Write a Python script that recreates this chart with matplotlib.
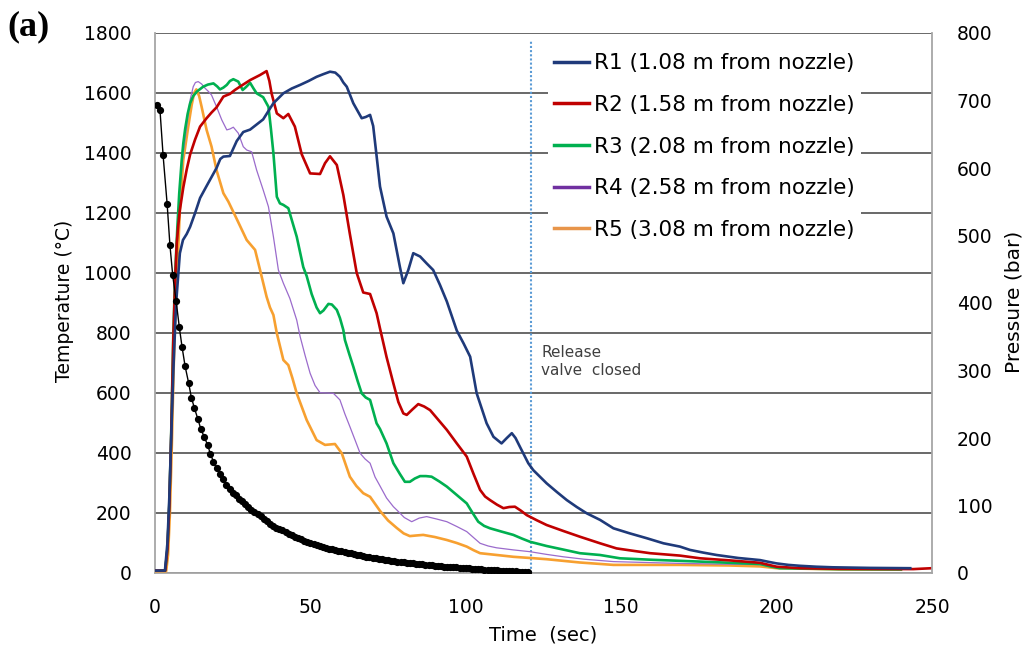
import matplotlib
matplotlib.use("Agg")
import matplotlib.pyplot as plt
from matplotlib.lines import Line2D

plt.rcParams["font.family"] = ["DejaVu Sans"]

# ---- data ----
r1_time = [0, 3.2, 4.0, 4.6, 5.2, 6.0, 6.8, 8.0, 9.0, 10.2, 11.3, 12.9, 14.5, 16.6, 18.2, 19.8,
           21.0, 22.0, 24.1, 25.2, 26.3, 28.4, 30.6, 32.7, 34.8, 36.5, 38.1, 41.3, 44.0, 46.7,
           49.4, 52.0, 54.2, 56.3, 58.0, 59.5, 60.6, 61.7, 63.8, 65.2, 66.5, 67.8, 69.2, 70.2,
           71.3, 72.4, 74.5, 76.7, 78.8, 79.9, 81.5, 83.1, 85.3, 87.4, 89.5, 91.7, 93.9, 97.1,
           99.3, 101.4, 103.5, 106.7, 108.9, 111.5, 113.2, 114.8, 116.0, 117.4, 120.1, 121.7,
           126.0, 129.3, 132.5, 135.7, 138.9, 143.2, 147.5, 152.8, 158.2, 163.6, 168.9, 172.1,
           176.4, 180.7, 187.7, 194.7, 197.5, 200.0, 203.8, 207.5, 212.7, 218.0, 230.0, 243.0]
r1_temp = [8, 8, 100, 250, 450, 700, 900, 1066, 1110, 1130, 1154, 1200, 1250, 1290, 1320, 1350,
           1380, 1388, 1390, 1415, 1440, 1470, 1478, 1495, 1512, 1540, 1566, 1599, 1615, 1627,
           1640, 1654, 1663, 1671, 1668, 1654, 1635, 1621, 1566, 1540, 1516, 1520, 1527, 1490,
           1390, 1288, 1188, 1132, 1020, 966, 1010, 1066, 1055, 1032, 1010, 960, 905, 808,
           765, 721, 599, 499, 454, 432, 450, 466, 450, 421, 366, 343,
           299, 270, 243, 220, 199, 177, 149, 132, 116, 99, 88, 77,
           68, 60, 50, 43, 37, 32, 27, 24, 21, 19, 17, 16]

r2_time = [0, 3.3, 4.0, 4.6, 5.2, 5.9, 6.5, 7.0, 7.5, 8.0, 9.1, 10.2, 11.3, 12.9, 14.5, 16.6,
           18.2, 19.8, 22.0, 24.1, 25.7, 27.3, 30.6, 33.8, 35.9, 36.8, 37.5, 39.2, 41.3, 42.9,
           45.0, 47.2, 49.9, 53.1, 54.7, 56.3, 58.5, 60.6, 62.7, 64.9, 67.0, 69.2, 71.3, 72.4,
           74.5, 76.7, 78.3, 79.9, 81.0, 82.8, 84.7, 86.6, 88.5, 91.2, 93.9, 97.1, 100.3, 102.5,
           104.6, 106.2, 107.8, 110.0, 112.1, 114.0, 115.8, 117.7, 119.6, 122.8, 126.0, 131.4,
           136.7, 143.2, 148.5, 153.8, 159.3, 168.9, 175.4, 185.0, 194.7, 197.5, 200.0, 207.5,
           220.0, 244.0, 250.0]
r2_temp = [8, 8, 80, 220, 450, 780, 980, 1100, 1160, 1210, 1285, 1345, 1395, 1445, 1488, 1516,
           1535, 1552, 1588, 1597, 1610, 1621, 1643, 1660, 1673, 1640, 1599, 1532, 1516, 1530,
           1488, 1396, 1332, 1330, 1366, 1389, 1360, 1260, 1130, 1000, 935, 930, 866, 815,
           720, 632, 570, 532, 527, 545, 563, 555, 543, 510, 477, 432, 388, 330,
           277, 255, 243, 228, 216, 220, 221, 208, 193, 176, 160, 140,
           121, 99, 82, 74, 66, 58, 49, 42, 34, 27, 21, 16,
           14, 13, 16]

r3_time = [0, 3.3, 4.0, 4.6, 5.2, 5.9, 6.5, 7.2, 7.8, 8.6, 9.1, 9.7, 10.5, 11.3, 12.3, 13.5,
           15.5, 17.0, 18.8, 20.0, 20.9, 22.0, 23.1, 24.1, 25.2, 26.8, 28.2, 29.3, 30.6, 31.7,
           32.7, 34.8, 36.5, 37.3, 38.1, 39.2, 40.2, 41.3, 42.9, 44.2, 45.6, 47.7, 48.8, 50.4,
           52.0, 53.1, 54.2, 55.8, 56.9, 58.5, 59.5, 60.6, 61.1, 62.5, 63.8, 65.2, 66.5, 67.8,
           69.2, 70.2, 71.3, 72.4, 74.5, 76.7, 78.8, 80.4, 82.0, 83.6, 85.3, 87.2, 89.0, 91.5,
           93.9, 97.1, 100.3, 102.2, 104.0, 105.9, 107.8, 111.5, 115.3, 118.0, 120.7, 126.0,
           131.4, 136.7, 143.2, 149.6, 160.0, 175.4, 185.0, 194.7, 198.0, 201.0, 220.0, 240.0]
r3_temp = [8, 8, 80, 230, 460, 800, 1000, 1154, 1266, 1377, 1432, 1480, 1530, 1566, 1590, 1605,
           1621, 1628, 1632, 1622, 1612, 1618, 1627, 1640, 1646, 1638, 1610, 1620, 1634, 1615,
           1599, 1586, 1554, 1480, 1399, 1254, 1232, 1227, 1216, 1170, 1121, 1020, 990, 930,
           885, 866, 875, 897, 895, 877, 850, 810, 777, 730, 688, 640, 599, 585,
           577, 540, 499, 480, 432, 366, 330, 304, 304, 315, 323, 323, 321, 305,
           288, 260, 232, 200, 171, 157, 149, 138, 127, 115, 104, 90,
           78, 66, 60, 49, 44, 38, 34, 30, 22, 16, 13, 12]

r4_time = [0, 3.4, 4.0, 4.6, 5.2, 5.9, 6.5, 7.2, 8.0, 9.1, 10.2, 11.3, 12.3, 13.0, 13.9, 15.0,
           16.1, 17.2, 18.2, 19.8, 21.5, 23.1, 24.1, 25.2, 26.8, 28.4, 29.5, 31.1, 32.7, 34.8,
           36.5, 38.1, 39.7, 41.3, 43.4, 45.6, 46.7, 48.3, 49.9, 51.5, 53.1, 55.3, 57.4, 59.5,
           61.1, 62.7, 64.3, 66.0, 67.6, 69.2, 70.8, 72.4, 74.5, 76.7, 77.8, 80.2, 82.6, 85.0,
           87.4, 90.6, 93.9, 97.1, 100.3, 102.5, 104.6, 107.2, 109.9, 115.3, 120.7, 126.0,
           131.4, 138.0, 147.5, 158.0, 168.9, 180.0, 194.7, 198.0, 200.0, 220.0, 240.0]
r4_temp = [8, 8, 70, 210, 440, 780, 990, 1150, 1280, 1400, 1488, 1577, 1621, 1635, 1638, 1630,
           1616, 1605, 1593, 1554, 1510, 1477, 1480, 1486, 1466, 1421, 1410, 1404, 1343, 1277,
           1221, 1121, 1010, 966, 915, 843, 788, 725, 666, 625, 601, 600, 599, 577,
           530, 488, 445, 399, 380, 366, 320, 290, 250, 221, 210, 185, 171, 183,
           188, 180, 171, 155, 138, 118, 99, 90, 84, 77, 71, 62,
           54, 46, 38, 35, 32, 30, 28, 21, 17, 13, 12]

r5_time = [0, 3.6, 4.2, 4.8, 5.4, 6.0, 6.6, 7.5, 8.0, 9.1, 10.7, 11.8, 12.6, 13.3, 14.2, 15.0,
           16.6, 18.2, 19.8, 22.0, 23.6, 26.3, 29.5, 32.2, 33.8, 35.9, 37.0, 38.1, 39.2, 41.3,
           42.9, 44.2, 45.6, 48.8, 52.0, 54.7, 57.9, 60.1, 61.4, 62.7, 64.8, 67.0, 69.2, 72.4,
           75.0, 77.8, 80.0, 82.0, 84.0, 86.3, 90.0, 93.9, 97.1, 100.3, 102.5, 104.6, 110.0,
           115.3, 120.7, 126.0, 136.7, 147.5, 168.9, 185.0, 194.7, 200.0, 220.0, 240.0]
r5_temp = [6, 6, 60, 200, 420, 680, 900, 1088, 1210, 1377, 1488, 1560, 1600, 1612, 1590, 1554,
           1477, 1421, 1343, 1266, 1238, 1180, 1110, 1077, 1010, 921, 885, 860, 799, 710,
           693, 650, 599, 510, 443, 427, 430, 399, 360, 321, 290, 266, 254, 207,
           175, 150, 132, 123, 125, 127, 120, 110, 100, 88, 76, 66, 60,
           54, 50, 46, 35, 27, 27, 25, 22, 16, 12, 11]

# pressure logged about once a second until the valve closed
pressure_time = [0.5, 1.6, 2.6, 3.9, 4.8, 5.7, 6.8, 7.8, 8.7, 9.7, 10.8, 11.7, 12.7, 13.8, 14.7,
                 15.8, 16.9, 17.8, 18.8, 19.8,
                 21, 22, 23, 24, 25, 26, 27, 28, 29, 30, 31, 32, 33, 34, 35, 36, 37, 38, 39, 40,
                 41, 42, 43, 44, 45, 46, 47, 48, 49, 50, 51, 52, 53, 54, 55, 56, 57, 58, 59, 60,
                 61, 62, 63, 64, 65, 66, 67, 68, 69, 70, 71, 72, 73, 74, 75, 76, 77, 78, 79, 80,
                 81, 82, 83, 84, 85, 86, 87, 88, 89, 90, 91, 92, 93, 94, 95, 96, 97, 98, 99, 100,
                 101, 102, 103, 104, 105, 106, 107, 108, 109, 110, 111, 112, 113, 114, 115, 116,
                 117, 118, 119, 120]
pressure_bar = [693, 686, 619, 547, 486, 441, 403, 365, 335, 306, 282, 260, 244, 228, 214,
                202, 190, 177, 165, 155,
                147, 139, 131, 124, 119, 115, 110, 106, 102, 98, 94, 91, 87, 84, 80, 77, 73, 70,
                67, 65, 63, 61, 58, 56, 54, 52, 50, 48, 46, 45, 43, 42, 40, 39, 37, 36, 35, 34,
                33, 32, 31, 30, 29, 28, 27, 26, 25, 24, 23, 22, 21.5, 21, 20.5, 20, 19, 18, 17.5,
                17, 16.5, 16, 15.5, 15, 14.5, 14, 13.5, 13, 12.5, 12, 11.5, 11, 10.5, 10, 9.5, 9,
                8.7, 8.5, 8.2, 8, 7.5, 7, 6.7, 6.5, 6.2, 6, 5.5, 5, 4.7, 4.5, 4.2, 4, 3.7, 3.5,
                3.2, 3, 2.7, 2.5, 2.2, 2, 1.7, 1.5]

labels = ["R1 (1.08 m from nozzle)", "R2 (1.58 m from nozzle)", "R3 (2.08 m from nozzle)",
          "R4 (2.58 m from nozzle)", "R5 (3.08 m from nozzle)"]
valve_closed_time = 121

# ---- figure ----
W, H = 1026, 653
fig = plt.figure(figsize=(W / 100, H / 100), dpi=100)
ax = fig.add_axes([155 / W, (H - 573) / H, 777 / W, 540 / H])
ax2 = ax.twinx()

# temperature curves (drawn back to front)
ax.plot(r5_time, r5_temp, color="#F7A030", lw=1.9, zorder=3)
ax.plot(r4_time, r4_temp, color="#9B6BCC", lw=0.9, zorder=3)
ax.plot(r3_time, r3_temp, color="#00B050", lw=1.9, zorder=3)
ax.plot(r2_time, r2_temp, color="#C00000", lw=1.9, zorder=3)
ax.plot(r1_time, r1_temp, color="#1F3A7A", lw=1.9, zorder=3)

ax.plot([valve_closed_time, valve_closed_time], [0, 1775], color="#5B9BD5",
        lw=1.5, linestyle=(0, (1, 1)), zorder=2)
ax.text(124.2, 760, "Release\nvalve  closed", fontsize=11, color="#404040",
        va="top", ha="left", linespacing=1.25)

# pressure on right axis
ax2.plot(pressure_time, pressure_bar, color="black", lw=1, marker="o", ms=4.2, zorder=4)

ax.set_xlim(0, 250)
ax.set_ylim(0, 1800)
ax2.set_ylim(0, 800)
ax.set_xticks([0, 50, 100, 150, 200, 250])
ax.set_yticks(range(0, 1801, 200))
ax2.set_yticks(range(0, 801, 100))

ax.yaxis.grid(True, color="#404040", lw=1.1)
ax.set_axisbelow(True)

for s in ["top", "right"]:
    ax.spines[s].set_visible(False)
for s in ["top", "left", "bottom"]:
    ax2.spines[s].set_visible(False)
for sp in [ax.spines["left"], ax.spines["bottom"], ax2.spines["right"]]:
    sp.set_color("#A6A6A6")
    sp.set_linewidth(1.3)

ax.tick_params(axis="y", length=0, labelsize=13.5, pad=17)
ax.tick_params(axis="x", length=0, labelsize=13.5, pad=18)
ax2.tick_params(axis="y", length=0, labelsize=13.5, pad=18)

fig.text(65 / W, 1 - 301 / H, "Temperature (°C)", rotation=90, ha="center", va="center",
         fontsize=13.5)
fig.text(1014 / W, 1 - 302 / H, "Pressure (bar)", rotation=90, ha="center", va="center",
         fontsize=14.5)
fig.text(543 / W, 1 - 635 / H, "Time  (sec)", ha="center", va="center", fontsize=14)
fig.text(7 / W, 1 - 27 / H, "(a)", ha="left", va="center", fontsize=26,
         family="Liberation Serif", weight="bold")

handles = [Line2D([], [], color=c, lw=2.5) for c in
           ["#1F3A7A", "#C00000", "#00B050", "#7030A0", "#E8954A"]]
leg = ax2.legend(handles, labels, loc="upper left", bbox_to_anchor=(548 / W, 1 - 47 / H),
                 bbox_transform=fig.transFigure, fontsize=15.5, frameon=True,
                 facecolor="white", edgecolor="none", framealpha=1, fancybox=False,
                 handlelength=1.6, handletextpad=0.25, labelspacing=1.0,
                 borderpad=0.3, borderaxespad=0)

fig.savefig("out.png", dpi=100)
